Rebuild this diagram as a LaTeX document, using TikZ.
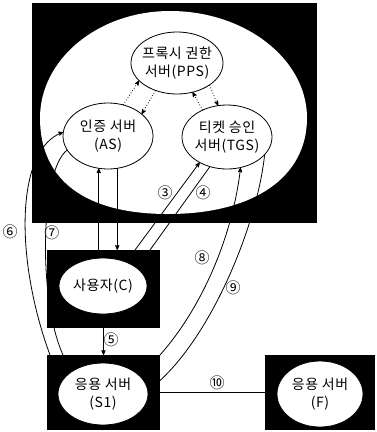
\documentclass[tikz,border=0pt]{standalone}
\usepackage{fontspec}
\setmainfont{Noto Sans CJK KR}[LetterSpace=4]
\usetikzlibrary{calc}
\usetikzlibrary{arrows}
\usetikzlibrary{shapes.geometric}

\begin{document}
\begin{tikzpicture}[x=1pt, y=-1pt, line width=.8pt,
  blk/.style={fill=black, inner sep=0, outer sep=0},
  srv/.style={ellipse, draw, fill=white, inner sep=0, outer sep=0},
  srvtext/.style={align=center, font=\fontsize{14}{18}\selectfont},
  num/.style={inner sep=0, font=\fontsize{15}{15}\selectfont},
  arr/.style={->, >=stealth'},
  dotarr/.style={->, >=stealth', dotted}]
\useasboundingbox (0,0) rectangle (376,432);
\node[blk, minimum width=285, minimum height=220] (mainbox) at (174.5,113) {};
\fill[white] (170,11) .. controls (98.5,11) and (40,59) .. (40,118)
  .. controls (40,180) and (85,214) .. (168,214)
  .. controls (254,214) and (307,177) .. (307,118)
  .. controls (307,59) and (245,11) .. (170,11) -- cycle;
\node[blk, minimum width=113, minimum height=78] (cbox) at (103.5,289) {};
\node[blk, minimum width=113, minimum height=75] (s1box) at (103.5,392.5) {};
\node[blk, minimum width=110, minimum height=75] (fbox) at (320,392.5) {};

\node[srv, minimum width=92, minimum height=62, label={[srvtext]center:{프록시 권한\\서버(\textit{PPS})}}] (pps) at (177,63) {};
\node[srv, minimum width=90, minimum height=66, label={[srvtext]center:{인증 서버\\(AS)}}] (as) at (108,136) {};
\node[srv, minimum width=90, minimum height=64, label={[srvtext]center:{티켓 승인\\서버(TGS)}}] (tgs) at (227,137) {};
\node[srv, minimum width=88, minimum height=56, label={[srvtext]center:{사용자(C)}}] (c) at (103,286) {};
\node[srv, minimum width=90, minimum height=62, label={[srvtext]center:{응용 서버\\(S1)}}] (s1) at (103,394) {};
\node[srv, minimum width=86, minimum height=66, label={[srvtext]center:{응용 서버\\(F)}}] (f) at (320,394) {};

\draw[dotarr] (as.64) -- (pps.205);
\draw[dotarr] (pps.232) -- (as.33);
\draw[dotarr] (tgs.132) -- (pps.298);
\draw[dotarr] (pps.326) -- (tgs.106);

\draw[arr] (as.-106 |- cbox.north) -- (as.-106);
\draw[arr] (as.-74) -- (as.-74 |- cbox.north);
\draw[arr] ($(cbox.north east)+(-25,0)$) -- (tgs.-137);
\draw (tgs.-120) -- ($(cbox.north east)+(-10,0)$);
\draw[arr] (cbox.south) -- (s1box.north);
\draw[arr] ($(s1box.north west)+(3,0)$) .. controls (15,260) and (15,150) .. (as.175);
\draw (as.199) .. controls (40,170) and (38,300) .. ($(s1box.north west)+(16,0)$);
\draw[arr] (s1box.north east) .. controls (200,310) and (232,240) .. (tgs.-66);
\draw (tgs.-25) .. controls (258,220) and (215,330) .. ($(s1box.east)+(0,-12)$);
\draw (s1box.east) -- (fbox.west);

\node[num] (n3) at (165,193) {③};
\node[num] (n4) at (203,193) {④};
\node[num] (n5) at (111,340) {⑤};
\node[num] (n6) at (10,232) {⑥};
\node[num] (n7) at (52,233) {⑦};
\node[num] (n8) at (202,258) {⑧};
\node[num] (n9) at (233,288) {⑨};
\node[num] (n10) at (217,383) {⑩};
\end{tikzpicture}
\end{document}
